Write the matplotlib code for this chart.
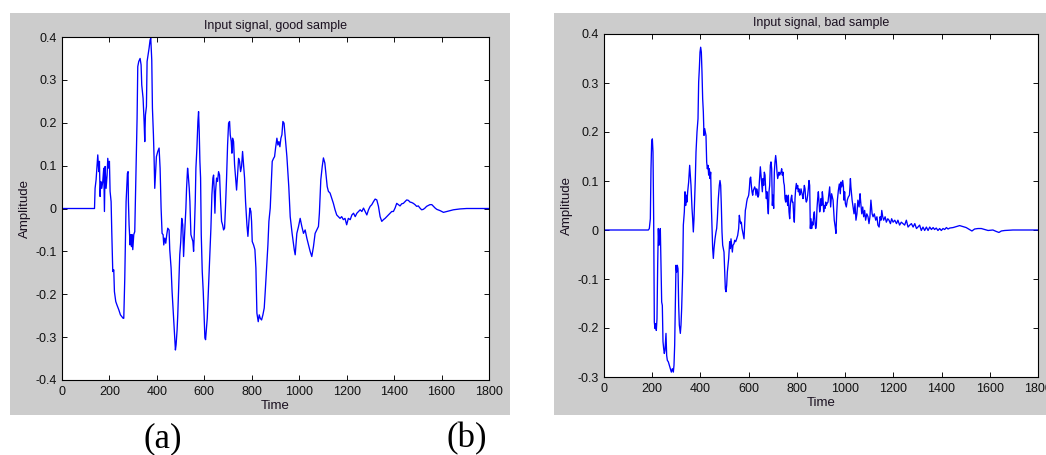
import matplotlib
matplotlib.use("Agg")
import matplotlib.pyplot as plt
from matplotlib.patches import Rectangle

plt.rcParams['font.family'] = ['Liberation Sans', 'DejaVu Sans']

# ---- data ----
good_t = [0, 137, 139.5, 143.7, 150.8, 155, 157.8, 160.6, 163.4, 167.6, 171.8, 176, 178.9, 181.7,
          185.9, 190.1, 192.9, 197.1, 199.9, 202.7, 207, 209.8, 214, 218.2, 221, 226.6, 232.3,
          239.3, 246.3, 257.5, 260.4, 264.6, 270.2, 275.8, 278.6, 280, 282.8, 287, 289.9, 292.7,
          295.5, 298.3, 302.5, 306.7, 310.9, 313.7, 316.5, 319.4, 323.6, 329.2, 333.4, 336.2,
          341.8, 346.1, 348.9, 351.7, 355.9, 358.7, 362.9, 367.1, 371.3, 374.2, 378.4, 381.2,
          385.4, 388.2, 391, 393.8, 398, 403.7, 409.3, 413.5, 417.7, 421.9, 426.1, 429, 433.2,
          437.4, 441.6, 445.8, 451.4, 454.2, 459.9, 464.1, 469.7, 473.9, 478.1, 480.9, 485.2,
          488, 492.2, 496.4, 500.6, 504.8, 509,
          512.5, 516.7, 522.3, 525.1, 529.4, 532.2, 536.4, 539.2, 543.4, 547.6, 551.8, 554.7,
          557.5, 561.7, 564.5, 568.7, 572.9, 575.7, 578.5, 581.3, 584.2, 587, 591.2, 595.4,
          599.6, 602.4, 605.2, 608, 612.3, 617.9, 622.1, 627.7, 631.9, 636.1, 639, 641.8, 644.6,
          647.4, 651.6, 655.8, 660, 664.2, 668.5, 672.7, 676.9, 681.1, 685.3, 689.5, 693.7, 698,
          702.2, 706.4, 709.2, 713.4, 716.2, 719, 723.3, 727.5, 731.7, 735.9, 740.1, 744.3,
          748.5, 752.8, 757, 761.2, 765.4, 769.6, 773.8, 779.5, 783.7, 787.9, 792.1, 796.3,
          799.1, 801.9, 807.6, 813.2, 817.4, 821.6, 827.2, 831.4, 835.7, 841.3, 846.9, 852.5,
          856.7, 862.3, 868, 872.2, 877.8, 882, 886.2, 891.9, 896.1, 900.3, 905.9, 910.1, 914.3,
          918.5, 922.8, 927, 931.2,
          936, 948, 956, 962, 970, 979, 983, 990, 997, 1004, 1011, 1018, 1025, 1032, 1039, 1046,
          1053, 1060, 1067, 1074, 1081, 1085, 1091, 1097, 1102, 1108, 1113, 1118, 1123, 1130,
          1137, 1144, 1151, 1158, 1165, 1172, 1179, 1186, 1193, 1200, 1207, 1215, 1222, 1229,
          1236, 1243, 1250, 1257, 1264, 1271, 1278, 1285, 1292, 1299, 1306, 1313, 1320, 1327,
          1334, 1341, 1348, 1355, 1362, 1369, 1376, 1383, 1390, 1397, 1404, 1411, 1418, 1425,
          1432, 1439, 1446, 1453, 1460, 1467, 1474, 1481, 1488, 1495, 1502, 1509, 1516, 1523,
          1530, 1537, 1551, 1559, 1566, 1573, 1580, 1594, 1608, 1622, 1636, 1650, 1678, 1706, 1800]
good_v = [0, 0, 0.047, 0.067, 0.125, 0.086, 0.11, 0.028, 0.063, 0.047, 0.063, 0.094, -0.007, 0.098,
          0.047, 0.078, 0.117, 0.094, 0.11, 0.04, 0.016, -0.054, -0.147, -0.143, -0.194, -0.217,
          -0.226, -0.236, -0.248, -0.256, -0.256, -0.163, 0.016, 0.082, 0.086, 0.016, -0.038, -0.085,
          -0.061, -0.089, -0.061, -0.096, -0.061, -0.054, 0.063, 0.133, 0.21, 0.331, 0.343, 0.35,
          0.335, 0.288, 0.257, 0.203, 0.156, 0.218, 0.238, 0.343, 0.358, 0.374, 0.393, 0.397,
          0.346, 0.234, 0.172, 0.117, 0.047, 0.078, 0.121, 0.133, 0.141, 0.094, 0.001, -0.058,
          -0.061, -0.085, -0.069, -0.081, -0.061, -0.046, -0.05, -0.096, -0.139, -0.194, -0.248,
          -0.287, -0.33, -0.318, -0.283, -0.248, -0.178, -0.108, -0.077, -0.023, -0.038,
          -0.112, -0.061, 0.001, 0.047, 0.094, 0.078, 0.047, 0.016, -0.061, -0.069, -0.077, -0.1,
          -0.061, 0.016, 0.094, 0.141, 0.203, 0.226, 0.179, 0.11, 0.071, -0.061, -0.147, -0.194,
          -0.26, -0.302, -0.306, -0.287, -0.256, -0.178, -0.124, -0.046, 0.032, 0.071, 0.078,
          0.04, -0.011, 0.04, 0.071, 0.063, 0.086, 0.078, 0.016, -0.03, -0.038, -0.05, -0.046,
          0.008, 0.071, 0.148, 0.199, 0.203, 0.172, 0.156, 0.129, 0.164, 0.156, 0.102, 0.071,
          0.043, 0.078, 0.117, 0.11, 0.086, 0.098, 0.133, 0.102, 0.071, 0.016, -0.038, -0.065,
          -0.03, 0.001, -0.007, -0.03, -0.077, -0.085, -0.096, -0.139, -0.244, -0.264, -0.248,
          -0.256, -0.26, -0.248, -0.232, -0.194, -0.139, -0.085, -0.03, 0.001, 0.055, 0.11,
          0.117, 0.121, 0.141, 0.164, 0.148, 0.156, 0.144, 0.164, 0.172, 0.203,
          0.199, 0.121, 0.051, -0.019, -0.058, -0.096, -0.108, -0.058, -0.042, -0.023, -0.042,
          -0.058, -0.05, -0.069, -0.085, -0.1, -0.112, -0.089, -0.058, -0.05, -0.042, -0.011,
          0.067, 0.098, 0.118, 0.106, 0.079, 0.051, 0.04, 0.036, 0.024, 0.012, -0.003, -0.015,
          -0.019, -0.023, -0.019, -0.026, -0.023, -0.038, -0.023, -0.026, -0.015, -0.011, -0.019,
          -0.011, -0.007, -0.003, -0.007, 0.001, -0.007, -0.015, -0.003, 0.005, 0.009, 0.016,
          0.022, 0.02, 0.005, -0.019, -0.03, -0.026, -0.023, -0.019, -0.015, -0.011, -0.007,
          -0.007, 0.001, 0.012, 0.009, 0.006, 0.011, 0.012, 0.016, 0.02, 0.019, 0.015, 0.014,
          0.012, 0.009, 0.005, 0.006, 0.001, -0.003, -0.002, 0.001, 0.005, 0.009, 0.009, 0.005,
          0.001, -0.002, -0.005, -0.009, -0.007, -0.005, -0.003, -0.001, 0, 0]

bad_t = [0, 184, 188, 192.2, 194.9, 197.7, 200.5, 203.2, 206, 207.4, 208.7, 211.5, 214.3, 217,
         219.8, 222.6, 225.3, 228.1, 230.9, 233.6, 236.4, 239.2, 241.9, 244.7, 247.5, 250.2, 253,
         257.1, 259.9, 262.7, 266.8, 271, 275.1, 279.3, 283.4, 287.6, 290.3, 293.1, 295.8, 298.6,
         301.4, 304.1, 306.9, 309.7, 312.4, 316.6, 319.3, 322.1, 326.3, 329, 333.2, 335.9,
         338.7, 341.5, 344.2, 347, 351.1, 355.3, 358.1, 360.8, 365, 367.7, 370.5, 373.3, 376,
         378.8, 381.6, 385.7, 389.9, 392.6, 395.4, 398.2, 400.9, 403.7, 406.4, 409.2, 412,
         414.7, 417.5, 420.3, 423, 425.8, 428.6, 431.3, 434.1, 436.9, 439.6, 442.4, 445.2,
         447.9, 450.7, 453.5, 456.2, 460.4, 464.5, 467.3, 470.1, 474.2, 478.3, 481.1, 483.9,
         486.6, 489.4, 492.2, 494.9, 497.7, 500.5, 503.2, 506, 508.8, 511.5,
         517.1, 521.2, 524, 526.7, 529.5, 532.3, 535, 539.2, 542, 546.1, 550.2, 554.4, 558.5,
         561.3, 564.1, 566.8, 569.6, 572.4, 575.1, 577.9, 580.7, 583.4, 586.2, 589, 591.7,
         594.5, 597.3, 600, 602.8, 605.5, 608.3, 611.1, 613.8, 616.6, 619.4, 622.1, 624.9,
         627.7, 630.4, 633.2, 636, 638.7, 641.5, 644.3, 647, 648.4, 651.2, 653.9, 656.7, 659.5,
         662.2, 665, 667.8, 670.5, 673.3, 676.1, 678.8, 681.6, 684.3, 687.1, 689.9, 692.6,
         695.4, 698.2, 700.9, 703.7, 706.5, 709.2, 712, 714.8, 717.5, 720.3, 723.1, 725.8,
         728.6, 731.4, 734.1, 736.9, 739.6, 742.4, 745.2, 747.9, 750.7, 753.5, 756.2, 759,
         761.8, 764.5, 767.3, 770.1, 772.8, 775.6, 778.4, 781.1, 783.9, 786.7, 789.4, 792.2,
         794.9, 797.7, 800.5, 803.2, 806, 808.8, 811.5, 814.3, 817.1, 819.8, 822.6, 825.4,
         828.1, 830.9, 833.7, 836.4, 839.2, 842, 844.7, 847.5, 850.2, 853, 855.8, 858.5, 861.3,
         864.1, 866.8, 869.6, 872.4, 875.1, 877.9, 880.7, 883.4, 886.2, 889, 891.7, 894.5,
         897.2, 900, 902.8, 905.5, 908.3, 911.1, 913.8, 916.6, 919.4, 922.1, 924.9, 929,
         936, 940, 944, 950, 955, 959, 962, 965, 968, 972, 976, 980, 983, 986, 990, 993, 995,
         998, 1001, 1005, 1009, 1013, 1018, 1022, 1024, 1029, 1033, 1037, 1041, 1045, 1049,
         1053, 1058, 1062, 1064, 1069, 1073, 1077, 1081, 1085, 1090, 1095, 1099, 1103, 1107,
         1112, 1116, 1121, 1127, 1132, 1136, 1141, 1145, 1149, 1152, 1156, 1160, 1166, 1171,
         1177, 1182, 1188, 1193, 1199, 1206, 1213, 1219, 1226, 1233, 1240, 1247, 1254, 1261,
         1268, 1275, 1282, 1289, 1296, 1302, 1309, 1316, 1323, 1330, 1337, 1344, 1351, 1358,
         1365, 1371, 1378, 1385, 1392, 1399, 1406, 1413, 1420, 1427, 1434, 1448, 1462, 1475,
         1489, 1502, 1516, 1526, 1537, 1551, 1565, 1579, 1593, 1613, 1627, 1638, 1648, 1662,
         1696, 1800]
bad_v = [0, 0, 0.003, 0.023, 0.125, 0.18, 0.186, 0.159, 0.023, -0.072, -0.188, -0.201, -0.191,
         -0.205, -0.181, -0.072, 0.003, -0.031, -0.004, 0.003, -0.072, -0.147, -0.154, -0.228,
         -0.242, -0.252, -0.245, -0.211, -0.256, -0.266, -0.269, -0.276, -0.283, -0.29, -0.283,
         -0.29, -0.276, -0.235, -0.154, -0.072, -0.086, -0.072, -0.079, -0.154, -0.194, -0.211,
         -0.194, -0.16, -0.086, 0.01, 0.037, 0.078, 0.05, 0.071, 0.057, 0.078, 0.098, 0.132,
         0.112, 0.091, 0.044, 0.023, -0.004, 0.023, 0.064, 0.105, 0.159, 0.2, 0.227, 0.302,
         0.329, 0.363, 0.373, 0.363, 0.322, 0.268, 0.241, 0.193, 0.207, 0.2, 0.193, 0.139,
         0.125, 0.132, 0.112, 0.125, 0.105, 0.118, 0.05, 0.01, -0.038, -0.058, -0.038, -0.018,
         -0.004, 0.003, 0.023, 0.064, 0.091, 0.101, 0.091, 0.05, -0.004, -0.031, -0.038, -0.045,
         -0.086, -0.12, -0.126, -0.113, -0.086,
         -0.058, -0.024, -0.038, -0.018, -0.031, -0.045, -0.031, -0.028, -0.021, -0.024, -0.018,
         -0.011, 0.003, 0.03, 0.02, 0.013, 0.016, 0.003, -0.004, -0.011, -0.018, 0.013, 0.04,
         0.047, 0.057, 0.064, 0.067, 0.071, 0.084, 0.105, 0.108, 0.091, 0.078, 0.071, 0.081,
         0.084, 0.088, 0.084, 0.071, 0.084, 0.078, 0.067, 0.071, 0.098, 0.118, 0.129, 0.112,
         0.098, 0.078, 0.105, 0.091, 0.118, 0.112, 0.084, 0.064, 0.078, 0.05, 0.033, 0.078,
         0.091, 0.132, 0.139, 0.125, 0.05, 0.071, 0.044, 0.118, 0.139, 0.152, 0.139, 0.118,
         0.105, 0.112, 0.118, 0.112, 0.115, 0.118, 0.125, 0.112, 0.118, 0.098, 0.091, 0.064,
         0.057, 0.071, 0.064, 0.05, 0.071, 0.037, 0.023, 0.05, 0.064, 0.071, 0.057, 0.057, 0.03,
         0.016, 0.064, 0.084, 0.095, 0.084, 0.091, 0.078, 0.084, 0.071, 0.074, 0.084, 0.078,
         0.071, 0.064, 0.078, 0.091, 0.084, 0.064, 0.057, 0.061, 0.071, 0.084, 0.101, 0.091,
         0.003, 0.023, 0.003, 0.016, 0.01, 0.03, 0.037, 0.016, 0.003, 0.01, 0.044, 0.064, 0.078,
         0.057, 0.037, 0.044, 0.064, 0.05, 0.078, 0.064, 0.037, 0.05, 0.044, 0.057, 0.05, 0.054,
         0.057,
         0.088, 0.047, 0.074, 0.061, 0.02, 0.006, -0.007, 0.033, 0.061, 0.081, 0.094, 0.074,
         0.098, 0.088, 0.101, 0.088, 0.061, 0.078, 0.054, 0.047, 0.061, 0.067, 0.071, 0.105,
         0.088, 0.061, 0.047, 0.033, 0.054, 0.02, 0.033, 0.061, 0.047, 0.074, 0.061, 0.033,
         0.047, 0.027, 0.04, 0.02, 0.033, 0.027, 0.013, 0.027, 0.061, 0.033, 0.027, 0.033, 0.02,
         0.027, 0.01, 0.006, 0.027, 0.02, 0.04, 0.027, 0.02, 0.027, 0.016, 0.023, 0.02, 0.013,
         0.023, 0.016, 0.02, 0.013, 0.02, 0.01, 0.016, 0.013, 0.01, 0.02, 0.006, 0.01, 0.013,
         0.006, 0.013, 0.003, 0.006, 0.01, -0.001, 0.006, -0.001, 0.006, -0.001, 0.006, 0.001,
         0.005, 0.001, 0.004, -0.001, 0.003, -0.001, 0.003, 0.001, 0.005, 0.002, 0.004, 0.005,
         0.007, 0.009, 0.007, 0.005, 0.001, -0.002, 0.002, 0.003, 0.003, 0.001, -0.001, 0,
         -0.003, -0.005, -0.002, -0.001, 0, 0]

x_ticks = [0, 200, 400, 600, 800, 1000, 1200, 1400, 1600, 1800]
good_yticks = [-0.4, -0.3, -0.2, -0.1, 0, 0.1, 0.2, 0.3, 0.4]
bad_yticks = [-0.3, -0.2, -0.1, 0, 0.1, 0.2, 0.3, 0.4]
titles = ['Input signal, good sample', 'Input signal, bad sample']

W, H = 1046, 455
fig = plt.figure(figsize=(W / 100, H / 100), dpi=100)


def px_rect(x0, y0, x1, y1):
    # pixel box (top-left origin) -> figure fraction [l, b, w, h]
    return [x0 / W, 1 - y1 / H, (x1 - x0) / W, (y1 - y0) / H]


# grey MATLAB figure backgrounds behind each panel
for box in [(10, 13, 510, 415), (554, 13, 1046, 415)]:
    l, b, w, h = px_rect(*box)
    fig.patches.append(Rectangle((l, b), w, h, transform=fig.transFigure,
                                 facecolor='#cccccc', edgecolor='none', zorder=-5))


def setup(ax, t, v, yticks, title):
    ax.set_zorder(2)
    ax.plot(t, v, color='#0000ff', lw=0.95)
    ax.set_xlim(0, 1800)
    ax.set_ylim(yticks[0], yticks[-1])
    ax.set_xticks(x_ticks)
    ax.set_yticks(yticks)
    ax.set_yticklabels(['0' if y == 0 else f'{y:g}' for y in yticks])
    ax.tick_params(direction='in', length=3.6, width=0.7, top=True, right=True,
                   labelsize=9, colors='#111111', pad=4)
    for s in ax.spines.values():
        s.set_linewidth(0.8)
    ax.set_facecolor('white')
    ax.set_title(title, fontsize=9, pad=6, color='#1a1020')
    ax.set_xlabel('Time', fontsize=9.5, labelpad=2, color='#1a1020')
    ax.set_ylabel('Amplitude', fontsize=9.5, labelpad=3, color='#1a1020')


ax1 = fig.add_axes(px_rect(62, 37, 489, 380))
setup(ax1, good_t, good_v, good_yticks, titles[0])
ax2 = fig.add_axes(px_rect(604, 34, 1038, 377))
setup(ax2, bad_t, bad_v, bad_yticks, titles[1])

fig.text(163 / W, 1 - 439 / H, '(a)', family='Liberation Serif', fontsize=25,
         ha='center', va='center')
fig.text(467 / W, 1 - 439 / H, '(b)', family='Liberation Serif', fontsize=25,
         ha='center', va='center')

fig.savefig('out.png', dpi=100)
